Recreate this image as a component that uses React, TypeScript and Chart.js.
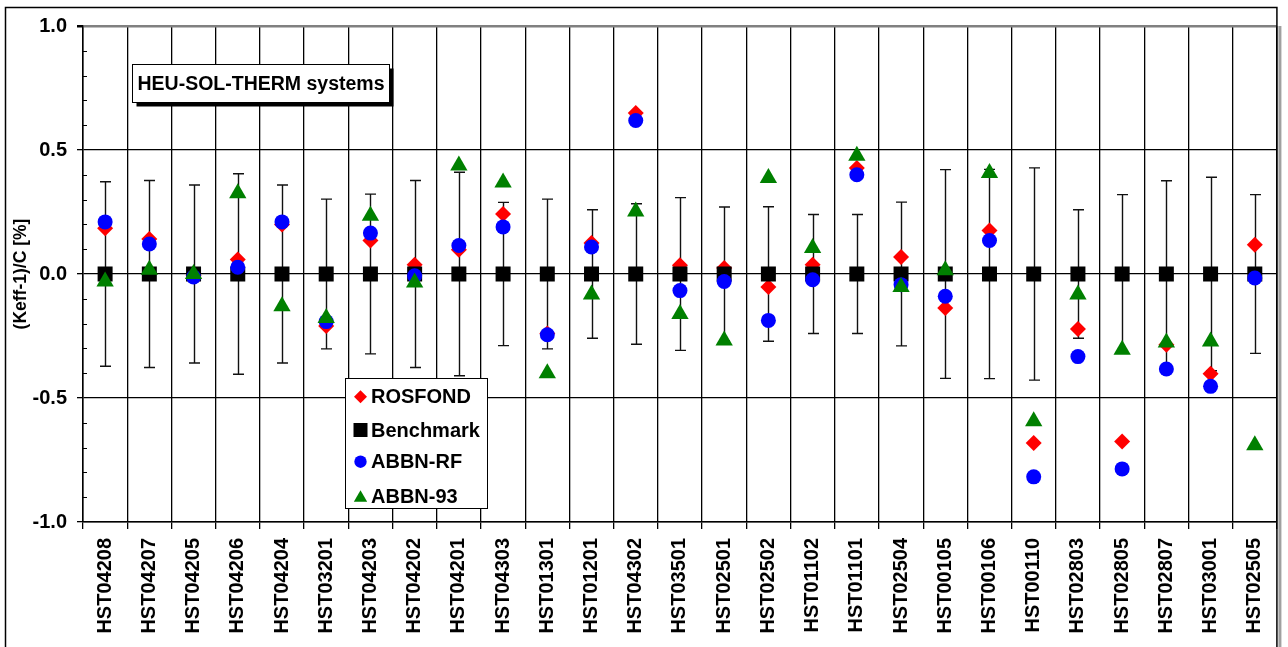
import React, { useEffect, useRef } from "react";
import { Chart, registerables } from "chart.js";
import { drawPoint } from "chart.js/helpers";

Chart.register(...registerables);

const categories = [
  "HST04208", "HST04207", "HST04205", "HST04206", "HST04204", "HST03201", "HST04203",
  "HST04202", "HST04201", "HST04303", "HST01301", "HST01201", "HST04302", "HST03501",
  "HST02501", "HST02502", "HST01102", "HST01101", "HST02504", "HST00105", "HST00106",
  "HST00110", "HST02803", "HST02805", "HST02807", "HST03001", "HST02505",
];

const rosfond = [
  0.184, 0.141, -0.005, 0.058, 0.2, -0.21, 0.135, 0.037, 0.098, 0.242, -0.24, 0.125, 0.649,
  0.035, 0.024, -0.052, 0.037, 0.427, 0.069, -0.137, 0.175, -0.681, -0.222, -0.675, -0.285,
  -0.402, 0.118,
];

const benchmark = [
  0, 0, 0, 0, 0, 0, 0, 0, 0, 0, 0, 0, 0, 0, 0, 0, 0, 0, 0, 0, 0, 0, 0, 0, 0, 0, 0,
];

const benchmarkUncertainty = [
  0.372, 0.377, 0.359, 0.404, 0.359, 0.302, 0.322, 0.377, 0.41, 0.289, 0.302, 0.259, 0.283,
  0.308, 0.27, 0.271, 0.24, 0.24, 0.29, 0.421, 0.422, 0.428, 0.259, 0.32, 0.376, 0.39, 0.32,
];

const abbnRf = [
  0.21, 0.121, -0.012, 0.027, 0.21, -0.192, 0.165, -0.007, 0.115, 0.19, -0.245, 0.109, 0.619,
  -0.067, -0.03, -0.187, -0.023, 0.4, -0.043, -0.09, 0.135, -0.818, -0.333, -0.786, -0.383,
  -0.453, -0.016,
];

const abbn93 = [
  -0.03, 0.017, 0.0, 0.326, -0.13, -0.177, 0.235, -0.034, 0.438, 0.369, -0.4, -0.083, 0.252,
  -0.161, -0.268, 0.387, 0.105, 0.477, -0.052, 0.015, 0.407, -0.594, -0.083, -0.305, -0.276,
  -0.272, -0.691,
];

const yTickValues = [-1, -0.5, 0, 0.5, 1];
const boxTitle = "HEU-SOL-THERM systems";
const yAxisTitle = "(Keff-1)/C [%]";

const FONT = "'Liberation Sans', Arial, sans-serif";

const framePlugin = {
  id: "frame",
  beforeDraw(chart: any) {
    const ctx = chart.ctx;
    ctx.save();
    ctx.fillStyle = "#ffffff";
    ctx.fillRect(0, 0, chart.width, chart.height);
    ctx.restore();
  },
  afterDraw(chart: any) {
    const ctx = chart.ctx;
    const area = chart.chartArea;
    ctx.save();
    ctx.strokeStyle = "#000";
    ctx.lineWidth = 1.5;
    ctx.strokeRect(5.5, 7.5, area.right - 5.5, chart.height + 10);
    ctx.fillStyle = "#a0a0a0";
    ctx.fillRect(area.right + 1.5, area.top, 3, chart.height);
    ctx.restore();
  },
};

const errorBarPlugin = {
  id: "errorBars",
  beforeDatasetsDraw(chart: any) {
    const ctx = chart.ctx;
    const xs = chart.scales.x;
    const ys = chart.scales.y;
    ctx.save();
    ctx.strokeStyle = "#111";
    ctx.lineWidth = 1.4;
    benchmarkUncertainty.forEach((u, i) => {
      const x = Math.round(xs.getPixelForValue(i)) + 0.5;
      const c = benchmark[i];
      const yT = ys.getPixelForValue(c + u);
      const yB = ys.getPixelForValue(c - u);
      ctx.beginPath();
      ctx.moveTo(x, yT);
      ctx.lineTo(x, yB);
      ctx.moveTo(x - 5.5, yT);
      ctx.lineTo(x + 5.5, yT);
      ctx.moveTo(x - 5.5, yB);
      ctx.lineTo(x + 5.5, yB);
      ctx.stroke();
    });
    // minor ticks on the value axis, every 0.1
    const left = chart.chartArea.left;
    ctx.strokeStyle = "#000";
    ctx.lineWidth = 1;
    for (let k = -10; k <= 10; k++) {
      if (k % 5 === 0) continue;
      const y = Math.round(ys.getPixelForValue(k / 10)) + 0.5;
      ctx.beginPath();
      ctx.moveTo(left, y);
      ctx.lineTo(left + 4, y);
      ctx.stroke();
    }
    ctx.restore();
  },
};

const annotationPlugin = {
  id: "boxes",
  afterDraw(chart: any) {
    const ctx = chart.ctx;
    ctx.save();
    // title box with shadow
    const bx = 132.5, by = 64.5, bw = 257, bh = 38;
    ctx.fillStyle = "#000";
    ctx.fillRect(bx + 4, by + 4, bw, bh);
    ctx.fillStyle = "#fff";
    ctx.fillRect(bx, by, bw, bh);
    ctx.strokeStyle = "#000";
    ctx.lineWidth = 1;
    ctx.strokeRect(bx, by, bw, bh);
    ctx.fillStyle = "#000";
    ctx.font = `bold 19.5px ${FONT}`;
    ctx.textBaseline = "middle";
    ctx.textAlign = "left";
    ctx.fillText(boxTitle, bx + 5, by + bh / 2 + 1);

    // legend
    const lx = 345.5, ly = 378.5, lw = 142, lh = 130;
    ctx.fillStyle = "#fff";
    ctx.fillRect(lx, ly, lw, lh);
    ctx.strokeRect(lx, ly, lw, lh);
    const rowY = [396.7, 430, 461.7, 496];
    const legendRadius = [6.5, 9.9, 6.2, 7.7];
    [0, 1, 2, 3].forEach((di, r) => {
      const ds = chart.data.datasets[di];
      const y = rowY[r];
      ctx.fillStyle = ds.pointBackgroundColor;
      ctx.strokeStyle = ds.pointBackgroundColor;
      drawPoint(
        ctx,
        { pointStyle: ds.pointStyle, rotation: 0, borderWidth: 0, radius: legendRadius[r] },
        360.5,
        di === 3 ? y + 2 : y
      );
      ctx.fillStyle = "#000";
      ctx.font = `bold 20px ${FONT}`;
      ctx.textBaseline = "middle";
      ctx.fillText(ds.label, 371, y + 1);
    });
    ctx.restore();
  },
};

export default function App() {
  const ref = useRef<HTMLCanvasElement | null>(null);

  useEffect(() => {
    if (!ref.current) return;
    const chart = new Chart(ref.current, {
      type: "line",
      data: {
        labels: categories,
        datasets: [
          {
            label: "ROSFOND",
            data: rosfond,
            showLine: false,
            pointStyle: "rectRot",
            pointRadius: 8,
            pointBackgroundColor: "#ff0000",
            pointBorderWidth: 0,
            order: 4,
          },
          {
            label: "Benchmark",
            data: benchmark,
            showLine: false,
            pointStyle: "rect",
            pointRadius: 10.6,
            pointBackgroundColor: "#000000",
            pointBorderWidth: 0,
            order: 3,
          },
          {
            label: "ABBN-RF",
            data: abbnRf,
            showLine: false,
            pointStyle: "circle",
            pointRadius: 7.5,
            pointBackgroundColor: "#0000ff",
            pointBorderWidth: 0,
            order: 2,
          },
          {
            label: "ABBN-93",
            data: abbn93,
            showLine: false,
            pointStyle: "triangle",
            pointRadius: 10,
            pointBackgroundColor: "#008000",
            pointBorderWidth: 0,
            order: 1,
          },
        ],
      },
      options: {
        responsive: false,
        animation: false,
        events: [],
        layout: { padding: { top: 26, right: 8, left: 0, bottom: 0 } },
        plugins: {
          legend: { display: false },
          tooltip: { enabled: false },
          title: { display: false },
        },
        scales: {
          x: {
            type: "category",
            offset: true,
            grid: {
              offset: true,
              color: "#000",
              lineWidth: 1.3,
              drawTicks: true,
              tickLength: 7,
              tickColor: "#000",
            },
            border: { color: "#000", width: 1.5 },
            ticks: {
              autoSkip: false,
              minRotation: 90,
              maxRotation: 90,
              padding: 9,
              color: "#000",
              font: { family: FONT, size: 20, weight: "bold" },
            },
            afterFit(scale: any) {
              scale.height = 125;
            },
          },
          y: {
            min: -1,
            max: 1,
            afterBuildTicks(scale: any) {
              scale.ticks = yTickValues.map((v) => ({ value: v }));
            },
            grid: {
              color: (c: any) => (c.tick && c.tick.value === 1 ? "#808080" : "#000"),
              lineWidth: (c: any) => (c.tick && c.tick.value === 1 ? 2.5 : 1.3),
              tickLength: 6,
              tickColor: "#000",
            },
            border: { color: "#000", width: 1.5 },
            ticks: {
              padding: 10,
              color: "#000",
              font: { family: FONT, size: 20, weight: "bold" },
              callback: (v: any) => Number(v).toFixed(1),
            },
            title: {
              display: true,
              text: yAxisTitle,
              color: "#000",
              font: { family: FONT, size: 17.5, weight: "bold" },
              padding: { top: 11, bottom: 0 },
            },
            afterFit(scale: any) {
              scale.width = 83;
            },
          },
        },
      },
      plugins: [framePlugin, errorBarPlugin, annotationPlugin],
    } as any);
    return () => chart.destroy();
  }, []);

  return (
    <div style={{ position: "fixed", left: 0, top: 0, width: 1288, height: 647, background: "#fff" }}>
      <canvas ref={ref} width={1288} height={647} style={{ display: "block" }} />
    </div>
  );
}
